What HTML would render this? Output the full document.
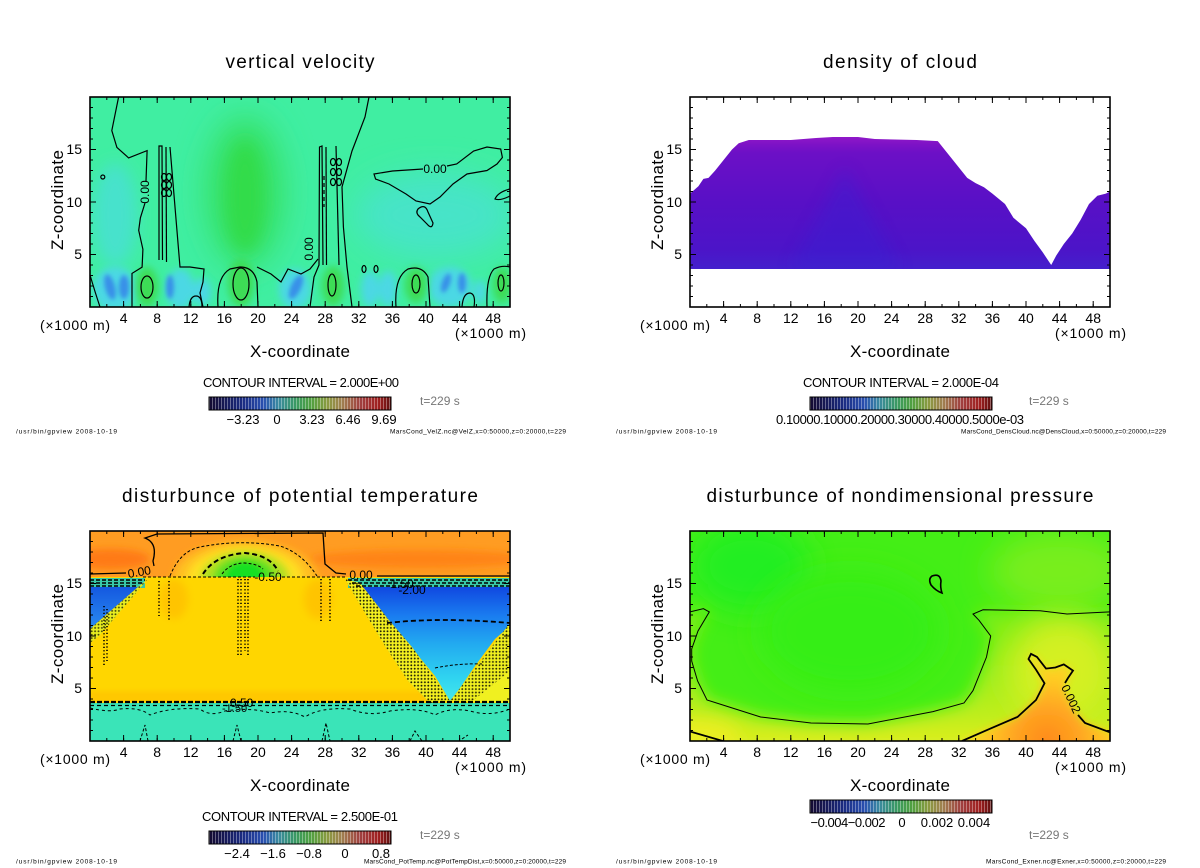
<!DOCTYPE html>
<html><head><meta charset="utf-8"><style>
html,body{margin:0;padding:0;background:#fff;}
svg{display:block;font-family:"Liberation Sans",sans-serif;}
</style></head><body>
<svg width="1200" height="868" viewBox="0 0 1200 868">
<defs>
<filter id="b2" x="-50%" y="-50%" width="200%" height="200%"><feGaussianBlur stdDeviation="2"/></filter>
<filter id="b4" x="-50%" y="-50%" width="200%" height="200%"><feGaussianBlur stdDeviation="4"/></filter>
<filter id="b8" x="-80%" y="-80%" width="260%" height="260%"><feGaussianBlur stdDeviation="8"/></filter>
<filter id="b16" x="-100%" y="-100%" width="300%" height="300%"><feGaussianBlur stdDeviation="16"/></filter>
<pattern id="dots" width="3.4" height="3.4" patternUnits="userSpaceOnUse"><circle cx="1.7" cy="1.7" r="0.95" fill="#000"/></pattern>
<pattern id="stripes" width="3" height="13" patternUnits="userSpaceOnUse"><rect x="0" y="0" width="1" height="13" fill="#fff" fill-opacity="0.35"/></pattern>
<linearGradient id="cb" x1="0" x2="1" y1="0" y2="0">
<stop offset="0" stop-color="#140a30"/><stop offset="0.18" stop-color="#1a2a80"/><stop offset="0.3" stop-color="#2a50b0"/><stop offset="0.38" stop-color="#3a8aa0"/><stop offset="0.48" stop-color="#3a9a60"/><stop offset="0.56" stop-color="#50a040"/><stop offset="0.65" stop-color="#8a9a40"/><stop offset="0.73" stop-color="#a08050"/><stop offset="0.83" stop-color="#a04040"/><stop offset="0.93" stop-color="#a02020"/><stop offset="1" stop-color="#601010"/>
</linearGradient>
<linearGradient id="cg" gradientUnits="userSpaceOnUse" x1="0" y1="40" x2="0" y2="172">
<stop offset="0" stop-color="#9018c8"/><stop offset="0.06" stop-color="#7c12c6"/><stop offset="0.12" stop-color="#6c10c6"/><stop offset="0.5" stop-color="#5810c6"/><stop offset="0.85" stop-color="#4c14c8"/><stop offset="1" stop-color="#4420cc"/>
</linearGradient>
<clipPath id="cloudclip"><polygon points="0,172 0,96.6 8.4,89.3 13.4,81.9 18.5,80.9 25.2,73.5 33.6,63 42,52.5 48.7,46.2 58.8,43 100.8,43 126,41 142.8,40 168,40 184.8,42 226.8,43 247.8,44.1 260.4,59.9 277.2,80.9 285.6,86.1 294,90.3 302.4,96.6 315,107 323.4,120.8 336,131.3 344.4,143.9 352.8,155.4 361.2,168 366.2,158.6 373.8,147 382.2,136.5 390.6,122.9 399,107 407.4,98.7 415.8,96.6 420,94.5 420,172"/></clipPath>
<clipPath id="domeclip"><rect x="0" y="0" width="420" height="46"/></clipPath>
<linearGradient id="bl" gradientUnits="userSpaceOnUse" x1="0" y1="56" x2="0" y2="98"><stop offset="0" stop-color="#1458e0"/><stop offset="1" stop-color="#2a8cf0"/></linearGradient>
<linearGradient id="br" gradientUnits="userSpaceOnUse" x1="0" y1="56" x2="0" y2="170"><stop offset="0" stop-color="#1048e0"/><stop offset="0.25" stop-color="#1a7cf0"/><stop offset="0.5" stop-color="#22aaf0"/><stop offset="0.8" stop-color="#30d4f0"/><stop offset="1" stop-color="#44e8ec"/></linearGradient>
<linearGradient id="pg" gradientUnits="userSpaceOnUse" x1="0" y1="80" x2="0" y2="210"><stop offset="0" stop-color="#74ee18"/><stop offset="0.5" stop-color="#9cee1a"/><stop offset="0.85" stop-color="#c4ee1e"/><stop offset="1" stop-color="#dcee20"/></linearGradient>
<radialGradient id="og" gradientUnits="userSpaceOnUse" cx="357" cy="210" r="90"><stop offset="0" stop-color="#ff8a1c"/><stop offset="0.35" stop-color="#ffa420"/><stop offset="0.7" stop-color="#ffcc20"/><stop offset="1" stop-color="#f0e020"/></radialGradient>

<g id="frame">
<rect x="0" y="0" width="420" height="210" fill="none" stroke="#000" stroke-width="1.6"/>
<g stroke="#000" fill="none">
<path d="M16.3,208.5H420M16.3,1.5H420" stroke-width="3" stroke-dasharray="1 15.8"/>
<path d="M33.1,207H420M33.1,3H420" stroke-width="6" stroke-dasharray="1 32.6"/>
<path d="M1.5,200V0M418.5,200V0" stroke-width="3" stroke-dasharray="1 9.5"/>
<path d="M3,158V0M417,158V0" stroke-width="6" stroke-dasharray="1 51.5"/>
</g>
<g font-size="14" text-anchor="middle" fill="#000">
<text x="33.6" y="226">4</text><text x="67.2" y="226">8</text><text x="100.8" y="226">12</text><text x="134.4" y="226">16</text><text x="168" y="226">20</text><text x="201.6" y="226">24</text><text x="235.2" y="226">28</text><text x="268.8" y="226">32</text><text x="302.4" y="226">36</text><text x="336" y="226">40</text><text x="369.6" y="226">44</text><text x="403.2" y="226">48</text>
</g>
<g font-size="14" text-anchor="end" fill="#000"><text x="-8" y="57">15</text><text x="-8" y="110">10</text><text x="-8" y="162">5</text></g>
<text x="-50" y="233" font-size="14" textLength="70" fill="#000">(×1000 m)</text>
<text x="365" y="241" font-size="14" textLength="71" fill="#000">(×1000 m)</text>
<text x="210" y="260" font-size="17" text-anchor="middle" textLength="100" fill="#000">X-coordinate</text>
<text transform="translate(-27,103) rotate(-90)" font-size="17" text-anchor="middle" textLength="100" fill="#000">Z-coordinate</text>
</g>
<g id="cbar"><rect width="182" height="13" fill="url(#cb)"/><rect width="182" height="13" fill="url(#stripes)"/><rect width="182" height="13" fill="none" stroke="#000" stroke-width="1"/></g>
</defs>

<rect width="1200" height="868" fill="#fff"/>

<!-- ============ Panel 1: vertical velocity ============ -->
<text x="300" y="68" font-size="19" text-anchor="middle" textLength="149">vertical velocity</text>
<svg x="90" y="97" width="420" height="210" overflow="hidden">
<rect width="420" height="210" fill="#40eea2"/>
<ellipse cx="25" cy="118" rx="22" ry="52" fill="#46e2cc" filter="url(#b8)"/>
<ellipse cx="345" cy="118" rx="80" ry="42" fill="#46e4c8" filter="url(#b16)"/>
<ellipse cx="155" cy="95" rx="38" ry="75" fill="#34e060" filter="url(#b16)"/>
<ellipse cx="155" cy="100" rx="18" ry="55" fill="#30dc48" filter="url(#b8)"/>
<g fill="#4cd8e4" filter="url(#b4)">
<ellipse cx="25" cy="192" rx="22" ry="22"/><ellipse cx="90" cy="192" rx="14" ry="20"/><ellipse cx="112" cy="195" rx="9" ry="14"/><ellipse cx="205" cy="192" rx="16" ry="20"/><ellipse cx="280" cy="192" rx="9" ry="18"/><ellipse cx="298" cy="192" rx="9" ry="18"/><ellipse cx="360" cy="190" rx="22" ry="20"/><ellipse cx="390" cy="195" rx="6" ry="12"/>
</g>
<g fill="#3890e8" filter="url(#b2)">
<ellipse cx="20" cy="190" rx="5" ry="13" transform="rotate(-15 20 190)"/><ellipse cx="34" cy="190" rx="5" ry="12"/><ellipse cx="80" cy="190" rx="4" ry="12"/><ellipse cx="206" cy="190" rx="5" ry="13" transform="rotate(25 206 190)"/><ellipse cx="356" cy="186" rx="4" ry="10" transform="rotate(20 356 186)"/><ellipse cx="372" cy="186" rx="4" ry="10"/>
</g>
<g fill="#3cdc54" filter="url(#b4)">
<ellipse cx="57" cy="190" rx="11" ry="20"/><ellipse cx="151" cy="186" rx="13" ry="24"/><ellipse cx="243" cy="189" rx="11" ry="20"/><ellipse cx="326" cy="188" rx="11" ry="18"/><ellipse cx="412" cy="188" rx="9" ry="18"/>
</g>
<g fill="none" stroke="#000" stroke-width="1.2">
<path d="M28.6,0 L21.8,33.6 L26.9,50.4 L38.6,60.9 L57.1,53.6 L56,84 M55,106 L50.4,120.8 L48.7,133.4 L52.9,152.3 L52.1,170.1 L42,176.4 L42,210"/>
<path d="M69,163 L69,49 L72,49 L72.5,163"/>
<path d="M76,50 L76.5,165"/>
<path d="M80,50 L90,170 L100,170 L114,172 L113,185 L110,196 L113,210"/>
<path d="M99,210 Q100,199 106,199 Q112,199 112,210"/>
<ellipse cx="74" cy="80" rx="2.5" ry="3.5"/><ellipse cx="79" cy="80" rx="2.5" ry="3.5"/><ellipse cx="74" cy="88" rx="2.5" ry="3.5"/><ellipse cx="79" cy="88" rx="2.5" ry="3.5"/><ellipse cx="74" cy="96" rx="2.5" ry="3.5"/><ellipse cx="79" cy="96" rx="2.5" ry="3.5"/>
<path d="M0,178 Q5,195 10,210"/>
<circle cx="12.8" cy="80" r="2"/>
<path d="M128,210 Q126,180 140,172 L150,170 Q164,170 167,185 L168,210"/>
<path d="M167,170 L181,177 L191,185 L198,172 L211,177 L220,172 L228,162"/>
<path d="M220,210 L224,180 L229,168 L229.5,50 L232,49 L233,168"/>
<path d="M236,50 L236.5,168"/>
<path d="M246,49 L249,168"/>
<path d="M234,79 L234,110" stroke-dasharray="4 3"/>
<ellipse cx="243" cy="65" rx="2.5" ry="3.5"/><ellipse cx="249" cy="65" rx="2.5" ry="3.5"/><ellipse cx="243" cy="75" rx="2.5" ry="3.5"/><ellipse cx="249" cy="75" rx="2.5" ry="3.5"/><ellipse cx="243" cy="85" rx="2.5" ry="3.5"/><ellipse cx="249" cy="85" rx="2.5" ry="3.5"/>
<path d="M279,0 L275,20 L262,54 L252,90 L253.4,130 L257,170 L262,210"/>
<path d="M357,69 L366.7,67 L383.6,54 L397,50 L410.7,52 L412.4,60.5 L407,67 L397,73.5 L377,77 L363,87 L350,100 L340,107 L326,104 L316,97 L299,87 L285.6,82 L284,77 L302.5,74 L333,72"/>
<path d="M328,112 Q335,106 338,115 L343,126 Q342,133 337,127 L330,120 Q325,116 328,112Z"/>
<path d="M420,92 Q408,95 405,102 Q410,104 420,99"/>
<ellipse cx="274" cy="172" rx="2" ry="3.5"/><ellipse cx="286" cy="172" rx="2" ry="3.5"/>
<path d="M306,210 Q304,180 318,172 Q332,168 338,180 L340,210"/>
<path d="M397,210 Q396,180 404,172 Q412,168 420,170"/>
<path d="M372,210 Q373,196 380,196 Q386,197 384,210"/>
<ellipse cx="57" cy="190" rx="6" ry="11"/><ellipse cx="151" cy="187" rx="8" ry="16"/><ellipse cx="242" cy="188" rx="4" ry="11"/><ellipse cx="326" cy="187" rx="4" ry="9"/><ellipse cx="411" cy="186" rx="3" ry="8"/>
</g>
<g font-size="12" fill="#000">
<text transform="translate(59,95) rotate(-90)" text-anchor="middle">0.00</text>
<text transform="translate(223,152) rotate(-90)" text-anchor="middle">0.00</text>
<text x="345" y="76" text-anchor="middle">0.00</text>
</g>
</svg>
<use href="#frame" x="90" y="97"/>
<text x="301" y="387" font-size="13" text-anchor="middle" textLength="196">CONTOUR INTERVAL = 2.000E+00</text>
<use href="#cbar" x="209" y="397"/>
<g font-size="13" text-anchor="middle"><text x="243" y="424">−3.23</text><text x="277" y="424">0</text><text x="312" y="424">3.23</text><text x="348" y="424">6.46</text><text x="384" y="424">9.69</text></g>
<text x="420" y="405" font-size="12" fill="#777">t=229 s</text>
<text x="16" y="433.5" font-size="6.5" textLength="101">/usr/bin/gpview   2008-10-19</text>
<text x="566" y="433.5" font-size="6.5" text-anchor="end" textLength="176">MarsCond_VelZ.nc@VelZ,x=0:50000,z=0:20000,t=229</text>

<!-- ============ Panel 2: density of cloud ============ -->
<text x="900" y="68" font-size="19" text-anchor="middle" textLength="154">density of cloud</text>
<svg x="690" y="97" width="420" height="210" overflow="hidden">
<rect width="420" height="210" fill="#fff"/>
<g clip-path="url(#cloudclip)">
<rect width="420" height="210" fill="url(#cg)"/>
<polygon points="155,70 100,172 210,172" fill="#3024d4" opacity="0.35" filter="url(#b8)"/>
</g>
</svg>
<use href="#frame" x="690" y="97"/>
<text x="901" y="387" font-size="13" text-anchor="middle" textLength="196">CONTOUR INTERVAL = 2.000E-04</text>
<use href="#cbar" x="810" y="397"/>
<text x="776" y="424" font-size="13" textLength="248">0.10000.10000.20000.30000.40000.5000e-03</text>
<text x="1029" y="405" font-size="12" fill="#777">t=229 s</text>
<text x="616" y="433.5" font-size="6.5" textLength="101">/usr/bin/gpview   2008-10-19</text>
<text x="1166" y="433.5" font-size="6.5" text-anchor="end" textLength="205">MarsCond_DensCloud.nc@DensCloud,x=0:50000,z=0:20000,t=229</text>

<!-- ============ Panel 3: potential temperature ============ -->
<text x="300" y="502" font-size="19" text-anchor="middle" textLength="356">disturbunce of potential temperature</text>
<svg x="90" y="531" width="420" height="210" overflow="hidden">
<rect width="420" height="60" fill="#ff9c22"/>
<ellipse cx="20" cy="28" rx="40" ry="10" fill="#ff7a12" filter="url(#b4)"/>
<ellipse cx="330" cy="28" rx="110" ry="9" fill="#ff8414" filter="url(#b4)"/>
<g clip-path="url(#domeclip)">
<ellipse cx="155" cy="48" rx="72" ry="38" fill="#ffc020" filter="url(#b4)"/>
<ellipse cx="155" cy="48" rx="58" ry="32" fill="#ffe020" filter="url(#b4)"/>
<ellipse cx="155" cy="48" rx="44" ry="27" fill="#b0e020" filter="url(#b4)"/>
<ellipse cx="155" cy="48" rx="30" ry="21" fill="#50e020" filter="url(#b4)"/>
<ellipse cx="155" cy="46" rx="18" ry="14" fill="#18e020" filter="url(#b2)"/>
</g>
<rect y="46" width="420" height="127" fill="#ffd600"/>
<ellipse cx="84" cy="68" rx="14" ry="20" fill="#ffc400" filter="url(#b4)"/>
<ellipse cx="228" cy="68" rx="14" ry="20" fill="#ffc400" filter="url(#b4)"/>
<rect y="160" width="420" height="12" fill="#ffc800" filter="url(#b2)"/>
<rect x="0" y="47" width="55" height="10" fill="#38c8a8"/>
<rect x="258" y="47" width="162" height="10" fill="#38c8a8"/>
<polygon points="0,56 48,56 0,98" fill="url(#bl)"/>
<polygon points="262,56 420,56 420,95 405,108 385,135 368,160 360,170 345,145 320,115 295,86 272,64" fill="url(#br)"/>
<polygon points="48,56 58,48 10,104 0,112 0,98" fill="#e8ee20"/>
<polygon points="48,56 58,48 10,104 0,112 0,98" fill="url(#dots)" opacity="0.7"/>
<polygon points="255,48 270,52 298,88 322,116 344,146 360,170 340,172 318,150 295,115 275,82 262,60" fill="#f4f020"/>
<polygon points="255,48 270,52 298,88 322,116 344,146 360,170 340,172 318,150 295,115 275,82 262,60" fill="url(#dots)" opacity="0.85"/>
<polygon points="360,170 420,92 420,172" fill="#f0f020"/>
<polygon points="360,170 420,92 420,140 395,160 380,172" fill="url(#dots)" opacity="0.8"/>
<rect y="172" width="420" height="40" fill="#3ae4b8"/>
<g fill="none" stroke="#000">
<path d="M0,171 H420" stroke-width="2.2" stroke-dasharray="5 2"/>
<path d="M0,174.5 H420" stroke-width="1.2" stroke-dasharray="4 3"/>
<path d="M0,177 Q20,182 30,178 Q50,176 60,184 Q80,176 110,178 Q120,186 135,180 Q160,176 180,182 Q200,178 215,186 Q230,176 260,178 Q280,186 300,180 Q330,176 345,184 Q360,176 380,180 Q400,186 420,178" stroke-width="1" stroke-dasharray="3 3"/>
<path d="M50,210 L55,194 L58,210 M143,210 L147,194 L151,210 M232,210 L236,192 L240,210 M320,210 L325,200 L332,210 M372,208 L378,204" stroke-width="1" stroke-dasharray="3 2"/>
<path d="M80,45 Q90,20 110,16 Q150,8 190,15 Q212,22 227,45" stroke-width="1" stroke-dasharray="3 2"/>
<path d="M113,43 Q125,24 155,22 Q180,24 188,40" stroke-width="2" stroke-dasharray="5 3"/>
<path d="M132,43 Q140,32 155,32 Q168,33 173,38" stroke-width="1" stroke-dasharray="3 2"/>
<path d="M53,46 H165 M192,46 H257" stroke-width="1" stroke-dasharray="3 2"/>
<path d="M0,43 L36,42 M64,35 L63,30 Q68,12 55,7 L67,3 L233,2 L235,33 L246,42 L256,43 M287,45 L420,45" stroke-width="1.3"/>
<path d="M297,92 Q350,86 420,92" stroke-width="1.8" stroke-dasharray="5 3"/>
<path d="M345,137 Q370,132 392,133" stroke-width="1" stroke-dasharray="3 2"/>
<path d="M0,49 H55 M0,52 H52 M0,55 H48 M258,49 H420 M262,52 H420 M266,55 H420" stroke-width="1.5" stroke-dasharray="4 2"/>
<path d="M69,50 V85 M79,50 V90 M148,48 V125 M151,48 V125 M155,48 V120 M158,48 V125 M231,48 V90 M240,48 V90 M14,75 V135 M17,78 V130" stroke-width="1.6" stroke-dasharray="1.2 2.2"/>
</g>
<g font-size="12" fill="#000">
<text transform="translate(50,45) rotate(-10)" text-anchor="middle">0.00</text>
<text x="271" y="48" text-anchor="middle">0.00</text>
<text x="178" y="50" text-anchor="middle">-0.50</text>
<text x="312" y="57" text-anchor="middle">1.50</text>
<text x="322" y="63" text-anchor="middle">-2.00</text>
<text x="132" y="181" font-size="11">-1.50</text>
<text x="140" y="176">0.50</text>
</g>
</svg>
<use href="#frame" x="90" y="531"/>
<text x="300" y="821" font-size="13" text-anchor="middle" textLength="196">CONTOUR INTERVAL = 2.500E-01</text>
<use href="#cbar" x="209" y="831"/>
<g font-size="13" text-anchor="middle"><text x="237" y="858">−2.4</text><text x="273" y="858">−1.6</text><text x="309" y="858">−0.8</text><text x="345" y="858">0</text><text x="381" y="858">0.8</text></g>
<text x="420" y="839" font-size="12" fill="#777">t=229 s</text>
<text x="16" y="863.5" font-size="6.5" textLength="101">/usr/bin/gpview   2008-10-19</text>
<text x="566" y="863.5" font-size="6.5" text-anchor="end" textLength="202">MarsCond_PotTemp.nc@PotTempDist,x=0:50000,z=0:20000,t=229</text>

<!-- ============ Panel 4: nondimensional pressure ============ -->
<text x="900" y="502" font-size="19" text-anchor="middle" textLength="387">disturbunce of nondimensional pressure</text>
<svg x="690" y="531" width="420" height="210" overflow="hidden">
<rect width="420" height="210" fill="#44ee16"/>
<ellipse cx="60" cy="35" rx="60" ry="45" fill="#22ee22" filter="url(#b16)"/>
<ellipse cx="160" cy="100" rx="90" ry="60" fill="#34ee18" filter="url(#b16)"/>
<ellipse cx="370" cy="40" rx="70" ry="40" fill="#78ee1a" filter="url(#b16)"/>
<path d="M0,80.9 L13.4,77.7 L19.3,80.9 L8,100 L1.7,118 L1.7,130 L7.6,150 L17,169 L36,175 L70.6,186 L121,192 L178,193 L243,180.6 L274,172 L283,159.6 L296.5,126 L300.7,105 L289,89.3 L283,83 L293,78.8 L350,79.8 L377,83 L420,80.9 L440,80 L440,230 L-20,230 L-20,80 Z" fill="url(#pg)" filter="url(#b8)"/>
<ellipse cx="372" cy="140" rx="55" ry="55" fill="#d4f020" filter="url(#b16)"/>
<ellipse cx="5" cy="210" rx="45" ry="22" fill="#eaee20" filter="url(#b8)"/>
<path d="M272,210 L300.7,197.4 L327.6,185.9 L346,169 L354.5,152.3 L346,138.6 L338.5,128 L341,122.9 L347,126 L356,137.6 L365.4,136.5 L373.8,133.4 L383,139.6 L378,147 L374,158 L386,182 L395,192 L419,201 L440,201 L440,230 L272,230 Z" fill="url(#og)" filter="url(#b4)"/>
<g fill="none" stroke="#000">
<path d="M0,80.9 L13.4,77.7 L19.3,80.9 L8,100 L1.7,118 L1.7,130 L7.6,150 L17,169 L36,175 L70.6,186 L121,192 L178,193 L243,180.6 L274,172 L283,159.6 L296.5,126 L300.7,105 L289,89.3 L283,83 L293,78.8 L350,79.8 L377,83 L420,80.9" stroke-width="1"/>
<path d="M242,45 Q250,42 251,50 Q250,56 252,62 Q246,60 241,54 Q238,48 242,45Z" stroke-width="1.6"/>
<path d="M0,200.5 L32.8,210" stroke-width="1.8"/>
<path d="M272,210 L300.7,197.4 L327.6,185.9 L346,169 L354.5,152.3 L346,138.6 L338.5,128 L341,122.9 L347,126 L356,137.6 L365.4,136.5 L373.8,133.4 L383,139.6 L378,147 L375,152 M388,184 L395,192 L419,201 L422,201" stroke-width="1.8"/>
</g>
<text transform="translate(381,168) rotate(65)" font-size="12" text-anchor="middle" dy="4">0.002</text>
</svg>
<use href="#frame" x="690" y="531"/>
<use href="#cbar" x="810" y="800"/>
<g font-size="13" text-anchor="middle"><text x="848" y="827" textLength="75">−0.004−0.002</text><text x="902" y="827">0</text><text x="937" y="827">0.002</text><text x="974" y="827">0.004</text></g>
<text x="1029" y="839" font-size="12" fill="#777">t=229 s</text>
<text x="616" y="863.5" font-size="6.5" textLength="101">/usr/bin/gpview   2008-10-19</text>
<text x="1166" y="863.5" font-size="6.5" text-anchor="end" textLength="180">MarsCond_Exner.nc@Exner,x=0:50000,z=0:20000,t=229</text>
</svg>
</body></html>
